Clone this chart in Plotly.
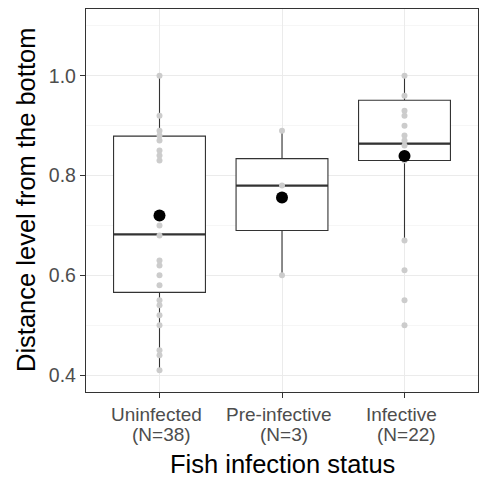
import plotly.graph_objects as go

# ---- data ----
categories = ["Uninfected", "Pre-infective", "Infective"]
n_labels = ["(N=38)", "(N=3)", "(N=22)"]

lower_whisker = [0.411, 0.600, 0.669]
q1_vals = [0.566, 0.690, 0.830]
median_vals = [0.682, 0.780, 0.864]
q3_vals = [0.879, 0.834, 0.951]
upper_whisker = [1.000, 0.889, 1.000]
mean_vals = [0.720, 0.756, 0.839]

points_uninfected = [1.00, 0.92, 0.89, 0.88, 0.87, 0.85, 0.84, 0.83, 0.70, 0.68,
                     0.63, 0.62, 0.60, 0.58, 0.55, 0.54, 0.52, 0.50, 0.45, 0.44, 0.41]
points_preinfective = [0.89, 0.78, 0.60]
points_infective = [1.00, 0.96, 0.93, 0.92, 0.90, 0.88, 0.87, 0.86, 0.83,
                    0.67, 0.61, 0.55, 0.50]

y_ticks = [0.4, 0.6, 0.8, 1.0]
x_title = "Fish infection status"
y_title = "Distance level from the bottom"

# ---- figure ----
pos = list(range(len(categories)))
box_w = 0.75
FONT = "Liberation Sans, Arial, sans-serif"

fig = go.Figure()

fig.add_trace(go.Box(
    x=pos, q1=q1_vals, median=median_vals, q3=q3_vals,
    lowerfence=lower_whisker, upperfence=upper_whisker,
    width=box_w, fillcolor="white", whiskerwidth=0,
    line=dict(color="#333333", width=1.1),
    boxpoints=False, showlegend=False, hoverinfo="skip",
))

# thicker median segments
mx, my = [], []
for p, m in zip(pos, median_vals):
    mx += [p - box_w / 2, p + box_w / 2, None]
    my += [m, m, None]
fig.add_trace(go.Scatter(x=mx, y=my, mode="lines",
                         line=dict(color="#333333", width=2.2),
                         showlegend=False, hoverinfo="skip"))

for p, pts in zip(pos, [points_uninfected, points_preinfective, points_infective]):
    fig.add_trace(go.Scatter(
        x=[p] * len(pts), y=pts, mode="markers",
        marker=dict(color="#CCCCCC", size=6, line=dict(width=0)),
        showlegend=False, hoverinfo="skip"))

fig.add_trace(go.Scatter(
    x=pos, y=mean_vals, mode="markers",
    marker=dict(color="black", size=12, line=dict(width=0)),
    showlegend=False, hoverinfo="skip"))

annotations = []
for p, c, n in zip(pos, categories, n_labels):
    annotations.append(dict(x=p, y=0, xref="x", yref="paper", text=c,
                            showarrow=False, xanchor="center", yanchor="middle",
                            xshift=-3, yshift=-22,
                            font=dict(size=19, color="#4D4D4D", family=FONT)))
    annotations.append(dict(x=p, y=0, xref="x", yref="paper", text=n,
                            showarrow=False, xanchor="center", yanchor="middle",
                            xshift=1.5, yshift=-42,
                            font=dict(size=19, color="#4D4D4D", family=FONT)))
annotations.append(dict(x=0.5, y=0, xref="paper", yref="paper", text=x_title,
                        showarrow=False, xanchor="center", yanchor="middle",
                        yshift=-72, font=dict(size=25.5, color="black", family=FONT)))
annotations.append(dict(x=0, y=0.5, xref="paper", yref="paper", text=y_title,
                        showarrow=False, xanchor="center", yanchor="middle",
                        textangle=-90, xshift=-60.5,
                        font=dict(size=25.5, color="black", family=FONT)))

fig.update_layout(
    width=482, height=477,
    margin=dict(l=86, r=4, t=9, b=85, autoexpand=False),
    paper_bgcolor="white", plot_bgcolor="white",
    font=dict(family=FONT, color="black"),
    annotations=annotations,
    xaxis=dict(
        range=[-0.6, 2.6], tickmode="array", tickvals=pos, showticklabels=False,
        showgrid=True, gridcolor="#EBEBEB", gridwidth=1,
        ticks="outside", ticklen=5, tickcolor="#333333", tickwidth=1,
        showline=True, mirror=True, linecolor="#333333", linewidth=1.2,
        zeroline=False,
    ),
    yaxis=dict(
        range=[0.3663, 1.1337], tickmode="array", tickvals=y_ticks,
        ticktext=[f"{v:.1f}" for v in y_ticks],
        tickfont=dict(size=19.5, color="#4D4D4D", family=FONT),
        showgrid=True, gridcolor="#EBEBEB", gridwidth=1,
        minor=dict(tickmode="array", tickvals=[0.5, 0.7, 0.9, 1.1],
                   showgrid=True, gridcolor="#F2F2F2", gridwidth=0.7, ticks=""),
        ticks="outside", ticklen=5, tickcolor="#333333", tickwidth=1,
        showline=True, mirror=True, linecolor="#333333", linewidth=1.2,
        zeroline=False,
    ),
)

fig.write_html("out.html",
               config={"displayModeBar": False, "staticPlot": True},
               post_script="document.body.style.margin='0';document.body.style.overflow='hidden';")
